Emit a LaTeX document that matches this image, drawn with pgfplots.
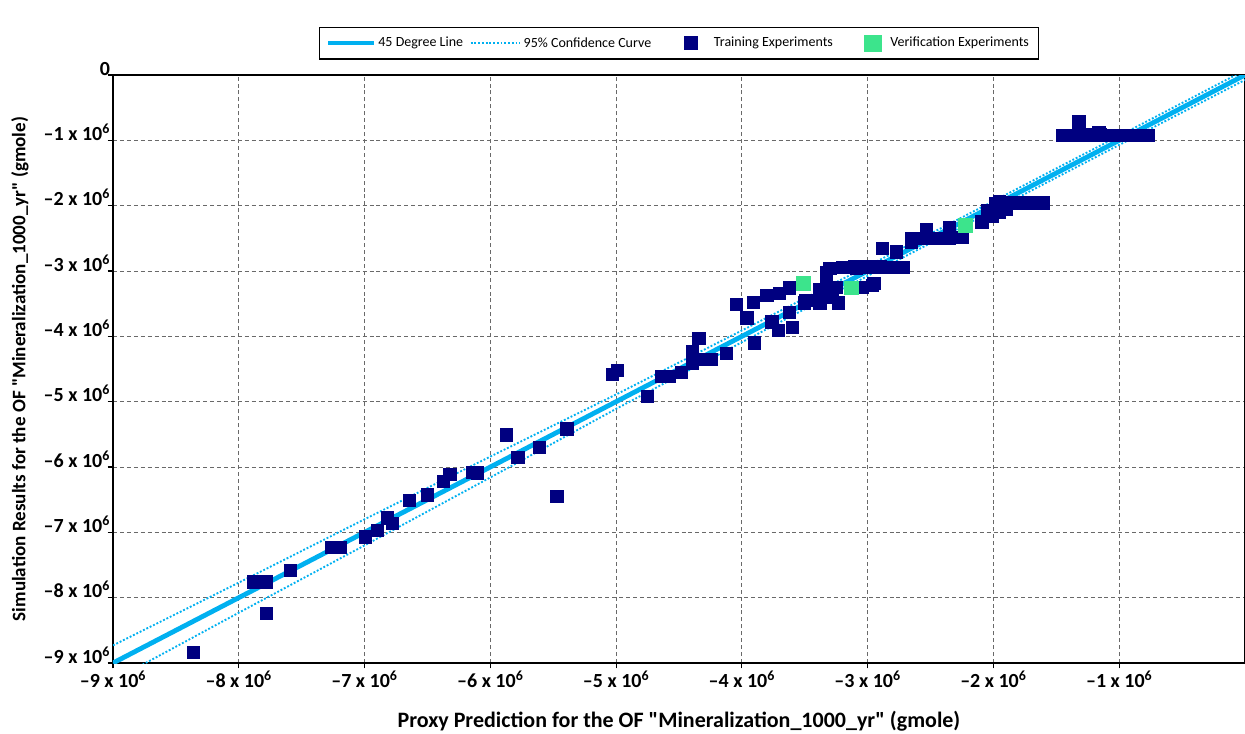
\documentclass[border=0pt]{standalone}
\usepackage{fontspec}
\setmainfont{Carlito}
\newfontfamily\qf{Carlito}
\usepackage{pgfplots}
\pgfplotsset{compat=1.18}
\definecolor{cyanline}{RGB}{0,176,240}
\definecolor{navy}{RGB}{0,0,128}
\definecolor{vgreen}{RGB}{60,228,140}
\newcommand{\tl}[1]{\textbf{--#1 x 10\textsuperscript{6}}}
\newcommand{\q}{{\qf"}}
\begin{document}
\begin{tikzpicture}
\begin{axis}[
  at={(0pt,0pt)}, anchor=south west,
  scale only axis, width=849pt, height=441pt,
  xmin=-9, xmax=0, ymin=-9, ymax=0,
  xtick={-9,-8,-7,-6,-5,-4,-3,-2,-1},
  xticklabels={\tl{9},\tl{8},\tl{7},\tl{6},\tl{5},\tl{4},\tl{3},\tl{2},\tl{1}},
  ytick={-9,-8,-7,-6,-5,-4,-3,-2,-1,0},
  yticklabels={\tl{9},\tl{8},\tl{7},\tl{6},\tl{5},\tl{4},\tl{3},\tl{2},\tl{1},\textbf{0}\hspace{10pt}},
  grid=major,
  grid style={color={rgb,255:red,105;green,105;blue,105}, dash pattern=on 3pt off 2.2pt, line width=0.75pt},
  axis line style={black, line width=0.9pt},
  tick align=outside, tick pos=left, major tick length=4pt,
  tick style={black, line width=0.9pt},
  xticklabel style={font=\fontsize{15}{17}\selectfont, anchor=north, inner sep=1pt, yshift=-1pt},
  yticklabel style={font=\fontsize{15}{17}\selectfont, anchor=base east, inner sep=0pt, xshift=2pt},
  xlabel={Proxy Prediction for the OF \q Mineralization\_1000\_yr\q\ (gmole)},
  ylabel={Simulation Results for the OF \q Mineralization\_1000\_yr\q\ (gmole)},
  xlabel style={font=\fontsize{16.5}{18}\selectfont\bfseries, at={(axis description cs:0.5,-0.0986)}, anchor=center},
  ylabel style={font=\fontsize{14.3}{16}\selectfont\bfseries, at={(axis description cs:-0.0822,0.5)}, anchor=center},
  legend columns=4,
  legend style={at={(axis description cs:0.5,1)}, anchor=south, yshift=11.5pt,
    draw=black, line width=0.9pt, font=\fontsize{10.5}{12}\selectfont,
    inner xsep=5pt, inner ysep=5.5pt,
    /tikz/every odd column/.append style={column sep=0pt},
    /tikz/every even column/.append style={column sep=3pt}},
]
\addplot[cyanline, line width=3.6pt, forget plot] coordinates {(-9,-9) (0,0)};
\addlegendimage{legend image code/.code={\draw[cyanline, line width=3pt] (0pt,0pt) -- (34pt,0pt);}}
\addlegendentry{45 Degree Line}
\addplot[cyanline, line width=1.4pt, dash pattern=on 1.4pt off 1.4pt,
  legend image code/.code={\draw[cyanline, line width=1.4pt, dash pattern=on 1.4pt off 1.4pt] (0pt,0pt) -- (37pt,0pt);}]
  coordinates {(-9,-8.73) (-8,-7.77) (-7,-6.80) (-6,-5.84) (-5,-4.89) (-4,-3.91) (-3,-2.925) (-2,-1.93) (-1,-0.93) (0,0.075)};
\addlegendentry{95\% Confidence Curve}
\addplot[cyanline, line width=1.4pt, dash pattern=on 1.4pt off 1.4pt, forget plot]
  coordinates {(-9,-9.27) (-8,-8.23) (-7,-7.20) (-6,-6.16) (-5,-5.11) (-4,-4.09) (-3,-3.075) (-2,-2.07) (-1,-1.07) (0,-0.075)};
\addplot[only marks, mark=square*, mark size=4.6pt, mark options={fill=navy, draw=navy, line width=0pt},
  legend image code/.code={\path[draw=none,fill=none] (0pt,-1pt) rectangle (40pt,1pt); \fill[navy] (20pt,-4.9pt) rectangle (29.8pt,4.9pt);}]
  coordinates {
  (-8.36,-8.84) (-7.88,-7.76) (-7.78,-7.76) (-7.78,-8.24) (-7.59,-7.58)
  (-7.26,-7.23) (-7.19,-7.23) (-6.99,-7.07) (-6.90,-6.97) (-6.82,-6.78)
  (-6.78,-6.86) (-6.64,-6.51) (-6.50,-6.43) (-6.37,-6.22) (-6.32,-6.11)
  (-6.14,-6.08) (-6.10,-6.09) (-5.87,-5.51) (-5.78,-5.85) (-5.61,-5.70)
  (-5.47,-6.45) (-5.39,-5.42) (-5.03,-4.58) (-4.99,-4.52) (-4.75,-4.92)
  (-4.64,-4.62) (-4.58,-4.61) (-4.48,-4.55) (-4.39,-4.41) (-4.39,-4.24)
  (-4.34,-4.03) (-4.30,-4.36) (-4.24,-4.35) (-4.12,-4.26) (-4.04,-3.51)
  (-3.91,-3.48) (-3.96,-3.72) (-3.90,-4.10) (-3.80,-3.37) (-3.76,-3.78)
  (-3.71,-3.91) (-3.70,-3.34) (-3.62,-3.26) (-3.60,-3.86) (-3.62,-3.63)
  (-3.50,-3.49) (-3.49,-3.45) (-3.44,-3.45) (-3.38,-3.49) (-3.38,-3.29)
  (-3.33,-3.09) (-3.28,-3.40) (-3.23,-3.49) (-3.33,-3.03) (-3.34,-3.29)
  (-3.25,-3.25) (-3.04,-3.25) (-2.95,-3.19) (-2.96,-3.22)
  (-3.30,-2.96) (-3.20,-2.95) (-3.10,-2.94) (-3.09,-2.96) (-3.00,-2.94)
  (-2.90,-2.94) (-2.80,-2.95) (-2.72,-2.95)
  (-2.88,-2.65) (-2.77,-2.71) (-2.65,-2.56) (-2.53,-2.37)
  (-2.65,-2.50) (-2.55,-2.50) (-2.45,-2.50) (-2.35,-2.50) (-2.25,-2.49)
  (-2.35,-2.33) (-2.09,-2.25) (-2.01,-2.17) (-2.05,-2.08) (-1.95,-1.94)
  (-1.95,-2.11) (-1.90,-2.05)
  (-1.98,-1.97) (-1.88,-1.96) (-1.78,-1.96) (-1.68,-1.96) (-1.60,-1.96)
  (-1.45,-0.93) (-1.35,-0.93) (-1.25,-0.92) (-1.15,-0.92) (-1.05,-0.93)
  (-0.95,-0.93) (-0.85,-0.93) (-0.77,-0.93) (-1.32,-0.72) (-1.16,-0.88)
  };
\addlegendentry{Training Experiments}
\addplot[only marks, mark=square*, mark size=5.2pt, mark options={fill=vgreen, draw=vgreen, line width=0pt},
  legend image code/.code={\path[draw=none,fill=none] (0pt,-1pt) rectangle (36pt,1pt); \fill[vgreen] (19pt,-6pt) rectangle (31pt,6pt);}]
  coordinates {(-3.51,-3.19) (-3.13,-3.26) (-2.22,-2.30)};
\addlegendentry{Verification Experiments}
\end{axis}
\pgfresetboundingbox
\path[use as bounding box] (-84.75pt,-52.5pt) rectangle (849pt,497.25pt);
\end{tikzpicture}
\end{document}
